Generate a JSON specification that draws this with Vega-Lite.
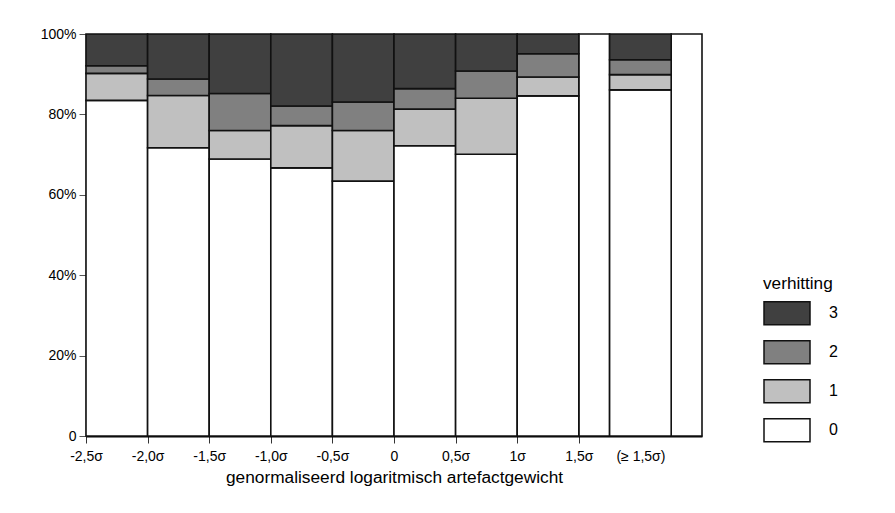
{
  "$schema": "https://vega.github.io/schema/vega-lite/v6.json",
  "autosize": {"type": "none"},
  "width": 616,
  "height": 402,
  "padding": {"left": 86, "top": 34, "right": 193, "bottom": 77},
  "background": "white",
  "config": {
    "view": {"stroke": null},
    "font": "Liberation Sans, Arial, sans-serif",
    "axis": {"labelFont": "Liberation Sans, Arial, sans-serif", "titleFont": "Liberation Sans, Arial, sans-serif", "labelColor": "#000", "titleColor": "#000", "grid": false},
    "legend": {"labelFont": "Liberation Sans, Arial, sans-serif", "titleFont": "Liberation Sans, Arial, sans-serif"}
  },
  "datasets": {
    "bins": [
      {"start": -2.5, "end": -2.0, "verhitting": "0", "pct": 83.5},
      {"start": -2.5, "end": -2.0, "verhitting": "1", "pct": 6.7},
      {"start": -2.5, "end": -2.0, "verhitting": "2", "pct": 1.9},
      {"start": -2.5, "end": -2.0, "verhitting": "3", "pct": 7.9},
      {"start": -2.0, "end": -1.5, "verhitting": "0", "pct": 71.7},
      {"start": -2.0, "end": -1.5, "verhitting": "1", "pct": 13.0},
      {"start": -2.0, "end": -1.5, "verhitting": "2", "pct": 4.1},
      {"start": -2.0, "end": -1.5, "verhitting": "3", "pct": 11.2},
      {"start": -1.5, "end": -1.0, "verhitting": "0", "pct": 68.9},
      {"start": -1.5, "end": -1.0, "verhitting": "1", "pct": 7.1},
      {"start": -1.5, "end": -1.0, "verhitting": "2", "pct": 9.2},
      {"start": -1.5, "end": -1.0, "verhitting": "3", "pct": 14.8},
      {"start": -1.0, "end": -0.5, "verhitting": "0", "pct": 66.7},
      {"start": -1.0, "end": -0.5, "verhitting": "1", "pct": 10.5},
      {"start": -1.0, "end": -0.5, "verhitting": "2", "pct": 4.9},
      {"start": -1.0, "end": -0.5, "verhitting": "3", "pct": 17.9},
      {"start": -0.5, "end": 0.0, "verhitting": "0", "pct": 63.4},
      {"start": -0.5, "end": 0.0, "verhitting": "1", "pct": 12.6},
      {"start": -0.5, "end": 0.0, "verhitting": "2", "pct": 7.1},
      {"start": -0.5, "end": 0.0, "verhitting": "3", "pct": 16.9},
      {"start": 0.0, "end": 0.5, "verhitting": "0", "pct": 72.2},
      {"start": 0.0, "end": 0.5, "verhitting": "1", "pct": 9.1},
      {"start": 0.0, "end": 0.5, "verhitting": "2", "pct": 5.1},
      {"start": 0.0, "end": 0.5, "verhitting": "3", "pct": 13.6},
      {"start": 0.5, "end": 1.0, "verhitting": "0", "pct": 70.1},
      {"start": 0.5, "end": 1.0, "verhitting": "1", "pct": 13.9},
      {"start": 0.5, "end": 1.0, "verhitting": "2", "pct": 6.8},
      {"start": 0.5, "end": 1.0, "verhitting": "3", "pct": 9.2},
      {"start": 1.0, "end": 1.5, "verhitting": "0", "pct": 84.6},
      {"start": 1.0, "end": 1.5, "verhitting": "1", "pct": 4.7},
      {"start": 1.0, "end": 1.5, "verhitting": "2", "pct": 5.8},
      {"start": 1.0, "end": 1.5, "verhitting": "3", "pct": 4.9},
      {"start": 1.75, "end": 2.25, "verhitting": "0", "pct": 86.1},
      {"start": 1.75, "end": 2.25, "verhitting": "1", "pct": 3.8},
      {"start": 1.75, "end": 2.25, "verhitting": "2", "pct": 3.7},
      {"start": 1.75, "end": 2.25, "verhitting": "3", "pct": 6.4}
    ],
    "gaps": [
      {"start": 1.5, "end": 1.75, "lo": 0, "hi": 1},
      {"start": 2.25, "end": 2.5, "lo": 0, "hi": 1}
    ]
  },
  "layer": [
    {
      "data": {"name": "gaps"},
      "mark": {"type": "bar", "fill": "white", "stroke": "#111", "strokeWidth": 1.6},
      "encoding": {
        "x": {"field": "start", "type": "quantitative"},
        "x2": {"field": "end"},
        "y": {"field": "lo", "type": "quantitative"},
        "y2": {"field": "hi"}
      }
    },
    {
      "data": {"name": "bins"},
      "transform": [
        {"stack": "pct", "groupby": ["start"], "sort": [{"field": "verhitting", "order": "ascending"}], "offset": "normalize", "as": ["y0", "y1"]}
      ],
      "mark": {"type": "bar", "stroke": "#111", "strokeWidth": 1.6, "opacity": 1},
      "encoding": {
        "x": {
          "field": "start", "type": "quantitative",
          "scale": {"domain": [-2.5, 2.5], "nice": false, "zero": false, "padding": 0},
          "axis": {
            "title": "genormaliseerd logaritmisch artefactgewicht",
            "titleFontSize": 17.3, "titleFontWeight": "normal", "titlePadding": 5.5,
            "values": [-2.5, -2, -1.5, -1, -0.5, 0, 0.5, 1, 1.5, 2],
            "labelExpr": "datum.value == 0 ? '0' : datum.value == 1 ? '1σ' : datum.value == 2 ? '(≥ 1,5σ)' : replace(replace(format(datum.value, '.1f'), '.', ','), '−', '-') + 'σ'",
            "labelFontSize": 14, "labelPadding": 6, "labelFlush": false, "labelOverlap": false,
            "tickSize": 7, "tickColor": "#333", "tickWidth": 1,
            "tickOpacity": {"condition": {"test": "datum.value == 2", "value": 0}, "value": 1},
            "domainColor": "#000", "domainWidth": 2
          }
        },
        "x2": {"field": "end"},
        "y": {
          "field": "y0", "type": "quantitative",
          "scale": {"domain": [0, 1], "nice": false, "zero": true, "padding": 0},
          "axis": {
            "title": null,
            "values": [0, 0.2, 0.4, 0.6, 0.8, 1],
            "labelExpr": "datum.value == 0 ? '0' : format(datum.value, '.0%')",
            "labelFontSize": 14, "labelPadding": 3,
            "tickSize": 7, "tickColor": "#555", "tickWidth": 1,
            "domainColor": "#000", "domainWidth": 1.5
          }
        },
        "y2": {"field": "y1"},
        "color": {
          "field": "verhitting", "type": "nominal",
          "sort": ["3", "2", "1", "0"],
          "scale": {"domain": ["3", "2", "1", "0"], "range": ["#404040", "#808080", "#c0c0c0", "#ffffff"]},
          "legend": {
            "orient": "none", "legendX": 677, "legendY": 241,
            "title": "verhitting", "titleFontSize": 17.2, "titleFontWeight": "normal", "titlePadding": -3,
            "labelFontSize": 16, "labelOffset": 18, "labelColor": "#000", "titleColor": "#000",
            "symbolType": "M-1,-0.5H1V0.5H-1Z", "symbolSize": 2116,
            "symbolStrokeColor": "#111", "symbolStrokeWidth": 1.5, "symbolOpacity": 1,
            "rowPadding": -2.8
          }
        }
      }
    }
  ]
}
